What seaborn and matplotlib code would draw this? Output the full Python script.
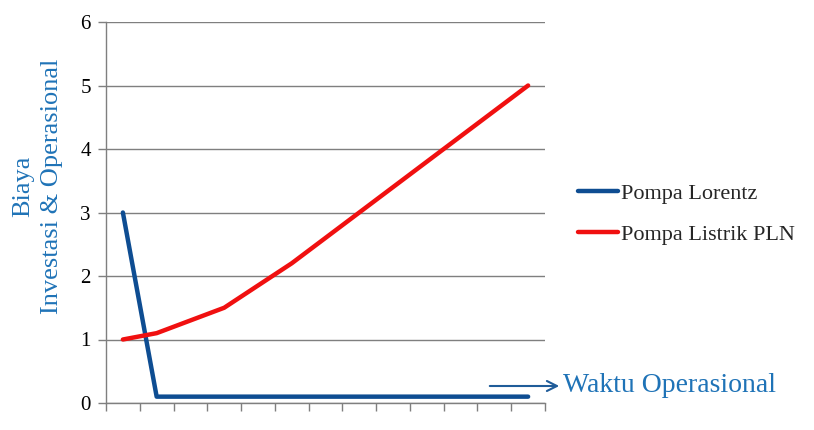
import matplotlib
matplotlib.use("Agg")
import matplotlib.pyplot as plt
import seaborn as sns
import pandas as pd
import numpy as np

periods = list(range(13))
lorentz = [3.0, 0.1, 0.1, 0.1, 0.1, 0.1, 0.1, 0.1, 0.1, 0.1, 0.1, 0.1, 0.1]
pln = [1.0, 1.1, 1.3, 1.5, 1.85, 2.2, 2.6, 3.0, 3.4, 3.8, 4.2, 4.6, 5.0]
series_names = ["Pompa Lorentz", "Pompa Listrik PLN"]
y_ticks = [0, 1, 2, 3, 4, 5, 6]
ylabel = "Biaya\nInvestasi & Operasional"
xlabel = "Waktu Operasional"

sns.set_theme(style="white")
plt.rcParams['font.family'] = ['Liberation Serif', 'DejaVu Serif']

df = pd.DataFrame({
    "x": periods * 2,
    "y": lorentz + pln,
    "series": [series_names[0]] * len(periods) + [series_names[1]] * len(periods),
})

fig = plt.figure(figsize=(8.14, 4.30), dpi=100)
ax = fig.add_axes([106/814, 1 - 403/430, (545-106)/814, (403-22)/430])

palette = {series_names[0]: "#0E4D92", series_names[1]: "#F01010"}
sns.lineplot(data=df, x="x", y="y", hue="series", palette=palette, linewidth=3.2,
             ax=ax, legend=False, solid_capstyle="round")

ax.set_xlim(-0.5, 12.5)
ax.set_ylim(0, 6)
ax.set_yticks(y_ticks)
ax.set_yticklabels([str(v) for v in y_ticks], fontsize=15, color="black")
ax.set_xticks(np.arange(-0.5, 13, 1.0))
ax.set_xticklabels([])
ax.grid(axis="y", color="#7f7f7f", linewidth=1)
ax.set_axisbelow(True)
for s in ["top", "right"]:
    ax.spines[s].set_visible(False)
for s in ["left", "bottom"]:
    ax.spines[s].set_color("#7f7f7f")
    ax.spines[s].set_linewidth(1)
ax.tick_params(axis="both", which="both", direction="out", length=6, width=1, color="#7f7f7f",
               left=True, bottom=True, pad=5)
ax.set_xlabel("")
ax.set_ylabel("")

fig.text(38/814, 1 - 186/430, ylabel, rotation=90, ha="center", va="center",
         fontsize=19, color="#1F73B7", linespacing=1.4, multialignment="center")

# legend
from matplotlib.lines import Line2D
handles = [Line2D([], [], color=palette[n], linewidth=3.2, solid_capstyle="round") for n in series_names]
fig.legend(handles, series_names, loc="center left", bbox_to_anchor=(578/814, 1 - 214/430),
           frameon=False, fontsize=16, handlelength=1.8, handletextpad=0.15, labelspacing=0.9,
           borderpad=0, borderaxespad=0)

# arrow and x label
fig.add_artist(matplotlib.patches.FancyArrowPatch((487/814, 1 - 386/430), (562/814, 1 - 386/430),
               transform=fig.transFigure, arrowstyle="->", mutation_scale=18, color="#1F5C99", linewidth=1.5))
fig.text(563/814, 1 - 386/430, xlabel, ha="left", va="center", fontsize=20, color="#1F73B7")

fig.savefig("out.png", dpi=100)
